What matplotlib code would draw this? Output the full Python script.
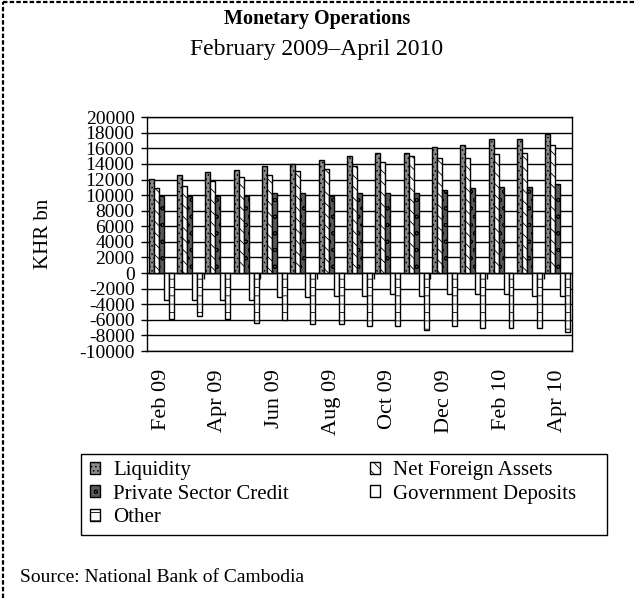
import matplotlib
matplotlib.use("Agg")
import matplotlib.pyplot as plt
from matplotlib.lines import Line2D
from matplotlib.patches import Rectangle
import numpy as np

# Monthly values, KHR bn
months = ["Feb 09", "Mar 09", "Apr 09", "May 09", "Jun 09", "Jul 09", "Aug 09",
          "Sep 09", "Oct 09", "Nov 09", "Dec 09", "Jan 10", "Feb 10", "Mar 10",
          "Apr 10"]
liquidity = [12090, 12600, 13030, 13280, 13790, 14050, 14520, 15000, 15460,
             15460, 16190, 16450, 17180, 17180, 17860]
net_foreign_assets = [10900, 11190, 11830, 12380, 12600, 13070, 13330, 13790,
                      14270, 15000, 14780, 14780, 15260, 15460, 16450]
private_sector_credit = [9900, 9900, 9900, 9900, 10250, 10250, 9900, 10250,
                         10250, 10250, 10700, 10900, 11100, 11100, 11400]
government_deposits = [-3400, -3400, -3400, -3400, -3100, -3100, -2900, -2900,
                       -2700, -2900, -2700, -2700, -2700, -2900, -2900]
other = [-5850, -5550, -5850, -6350, -6050, -6500, -6550, -6750, -6750, -7250,
         -6750, -7050, -7050, -7050, -7550]
y_ticks = list(range(-10000, 20001, 2000))

series = [
    ("Liquidity", liquidity, dict(facecolor="#8c8c8c", hatch="....")),
    ("Net Foreign Assets", net_foreign_assets,
     dict(facecolor="white", hatch="\\\\\\")),
    ("Private Sector Credit", private_sector_credit,
     dict(facecolor="#5a5a5a", hatch="oo")),
    ("Government Deposits", government_deposits, dict(facecolor="white")),
    ("Other", other, dict(facecolor="white", hatch="--")),
]

plt.rcParams["font.family"] = ["Liberation Serif", "DejaVu Serif"]
plt.rcParams["hatch.linewidth"] = 0.6

fig = plt.figure(figsize=(6.34, 5.98), dpi=100)
ax = fig.add_axes([0.232, 0.413, 0.670, 0.391])

x = np.arange(len(months))
width = 0.175
handles = []
for k, (name, vals, style) in enumerate(series):
    bars = ax.bar(x + (k - 2) * width, vals, width, edgecolor="black",
                  linewidth=1.0, label=name, zorder=3, **style)
    handles.append(bars)

ax.set_xlim(-0.5, len(months) - 0.5)
ax.set_ylim(y_ticks[0], y_ticks[-1])
ax.set_yticks(y_ticks)
ax.set_yticklabels([str(v) for v in y_ticks])
ax.yaxis.grid(True, color="black", linewidth=1.0, zorder=0)
ax.tick_params(axis="y", labelsize=14, length=4, width=1, pad=5,
               direction="out")

ax.set_xticks(x[::2])
ax.set_xticklabels(months[::2], rotation=90, fontsize=16)
ax.tick_params(axis="x", length=0, pad=13)
for s in ax.spines.values():
    s.set_linewidth(1.0)
    s.set_color("black")

# category axis crossing at zero, tick marks every second boundary
zero_pos = (0 - y_ticks[0]) / (y_ticks[-1] - y_ticks[0])
zax = ax.secondary_xaxis(zero_pos)
zax.set_xticks(np.arange(1.5, len(months) - 1, 2))
zax.tick_params(axis="x", length=4, width=1, labelbottom=False,
                direction="out")
zax.spines["bottom"].set_linewidth(1.0)

ax.set_ylabel("KHR bn", fontsize=15, labelpad=19)

fig.text(0.5, 0.968, "Monetary Operations", ha="center", va="center",
         fontsize=14.5, fontweight="bold")
fig.text(0.5, 0.918, "February 2009\u2013April 2010", ha="center",
         va="center", fontsize=17)

# legend box drawn separately so its size matches the original
fig.add_artist(Rectangle((81 / 634, 1 - 535 / 598), 526 / 634, 81 / 598,
                         transform=fig.transFigure, fill=False,
                         edgecolor="black", linewidth=1.0))
order = [0, 2, 4, 1, 3]
leg = fig.legend([handles[i] for i in order], [series[i][0] for i in order],
                 ncol=2, loc="upper left",
                 bbox_to_anchor=(90 / 634, 1 - 461 / 598),
                 fontsize=15, frameon=False,
                 handlelength=0.5, handleheight=0.5,
                 handletextpad=0.6, labelspacing=0.22, borderpad=0.0,
                 columnspacing=3.9, borderaxespad=0)

fig.text(20 / 634, 0.035, "Source: National Bank of Cambodia", ha="left",
         va="center", fontsize=14)

# dashed frame of the original box (left and top edges)
fig.add_artist(Line2D([0.004, 0.004], [0, 0.996], transform=fig.transFigure,
                      color="black", linewidth=1.6, linestyle=(0, (2, 1))))
fig.add_artist(Line2D([0.004, 1], [0.996, 0.996], transform=fig.transFigure,
                      color="black", linewidth=1.6, linestyle=(0, (2, 1))))

fig.savefig("out.png", dpi=100)
